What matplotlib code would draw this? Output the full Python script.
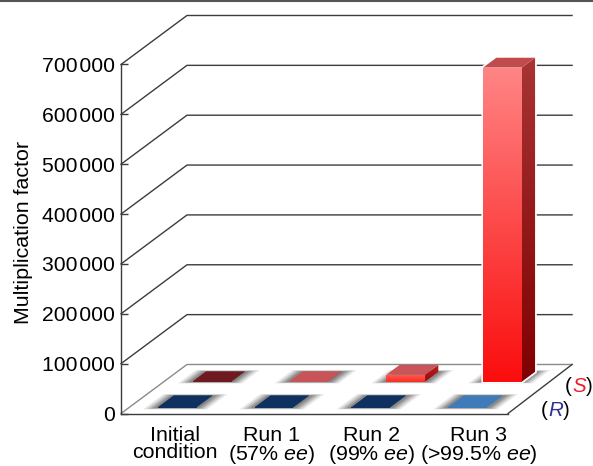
import matplotlib
matplotlib.use('Agg')
import matplotlib.pyplot as plt
import numpy as np
from matplotlib.colors import LinearSegmentedColormap
from matplotlib.lines import Line2D
from matplotlib.patches import Polygon

plt.rcParams['font.family'] = ['Liberation Sans', 'DejaVu Sans']
plt.rcParams['mathtext.fontset'] = 'custom'
plt.rcParams['mathtext.rm'] = 'Liberation Sans'
plt.rcParams['mathtext.it'] = 'Liberation Sans:italic'

y_ticks = [0, 100000, 200000, 300000, 400000, 500000, 600000, 700000]
y_labels = ['0', '100\u200a000', '200\u200a000', '300\u200a000', '400\u200a000',
            '500\u200a000', '600\u200a000', '700\u200a000']
x_labels = ['Initial\ncondition', 'Run 1\n(57% $\\mathit{ee}$)',
            'Run 2\n(99% $\\mathit{ee}$)', 'Run 3\n(>99.5% $\\mathit{ee}$)']
x_label_pos = [0.56, 1.56, 2.59, 3.70]

bar_pos = [0.5, 1.5, 2.5, 3.5]
s_values = [1000, 1000, 14000, 630000]
r_values = [1000, 1000, 1000, 1000]

s_top = ['#6e1a20', '#c85358', '#c9555a', '#c24a4a']
s_front_hi = ['#6e1a20', '#c85358', '#ff5a50', '#ff8585']
s_front_lo = ['#6e1a20', '#c85358', '#ff2a20', '#fb0d0d']
s_side_hi = ['#4c1015', '#96343a', '#b32020', '#a83434']
s_side_lo = ['#4c1015', '#96343a', '#a00808', '#800000']
r_top = ['#0f315f', '#0f315f', '#0f315f', '#3f7ab9']

# one unit of depth in data coordinates of the front plane
DX = 0.682
DV = 98300
HALF = 0.2


def proj(x, v, d):
    return x + d * DX, v + d * DV


def gradient_face(ax, pts, hi, lo, z):
    # vertical gradient clipped to a polygon
    pts = np.array(pts)
    cmap = LinearSegmentedColormap.from_list('face', [lo, hi])
    grad = np.linspace(0, 1, 256).reshape(-1, 1)
    im = ax.imshow(grad, origin='lower', cmap=cmap, aspect='auto', zorder=z,
                   extent=(pts[:, 0].min(), pts[:, 0].max(), pts[:, 1].min(), pts[:, 1].max()))
    poly = Polygon(pts, closed=True, transform=ax.transData, fc='none', ec='none')
    ax.add_patch(poly)
    poly.set_clip_on(False)
    im.set_clip_path(poly)
    # images are cut at the axes box unless told otherwise
    im.set_clip_box(ax.figure.bbox)


def draw_shadow(ax, x, d0, d1, z):
    for e, a in [(0.13, 0.14), (0.10, 0.20), (0.07, 0.28), (0.04, 0.36)]:
        de = e * 0.28
        pts = [proj(x - HALF - e, 0, d0 - de), proj(x + HALF + e, 0, d0 - de),
               proj(x + HALF + e, 0, d1 + de), proj(x - HALF - e, 0, d1 + de)]
        ax.add_patch(Polygon(pts, closed=True, fc='#555555', ec='none', alpha=a,
                             zorder=z, clip_on=False))


def draw_bar(ax, x, d0, d1, value, top, front_hi, front_lo, side_hi, side_lo, z):
    x0, x1 = x - HALF, x + HALF
    draw_shadow(ax, x, d0, d1, z)
    front = [proj(x0, 0, d0), proj(x1, 0, d0), proj(x1, value, d0), proj(x0, value, d0)]
    side = [proj(x1, 0, d0), proj(x1, 0, d1), proj(x1, value, d1), proj(x1, value, d0)]
    lid = [proj(x0, value, d0), proj(x1, value, d0), proj(x1, value, d1), proj(x0, value, d1)]
    # thin white rim keeps the gridlines off the tall bar
    if value > 100000:
        rim = [front[0], front[1], side[1], side[2], lid[3], front[3]]
        ax.add_patch(Polygon(rim, closed=True, fc='white', ec='white', lw=2.5, zorder=z + 0.1,
                             clip_on=False))
    gradient_face(ax, side, side_hi, side_lo, z + 0.2)
    gradient_face(ax, front, front_hi, front_lo, z + 0.3)
    ax.add_patch(Polygon(lid, closed=True, fc=top, ec='none', zorder=z + 0.4, clip_on=False))


def label_parts(ax, anchor, parts):
    for text, color, style, dx, dy in parts:
        ax.annotate(text, xy=anchor, xycoords='data', xytext=(dx, dy), textcoords='offset pixels',
                    color=color, style=style, fontsize=14.8, va='baseline', ha='left',
                    annotation_clip=False)


fig = plt.figure(figsize=(5.93, 4.66), dpi=100)
ax = fig.add_axes([121 / 593, (466 - 413.5) / 466, 387 / 593, 349 / 466])

for v in y_ticks:
    pts = np.array([proj(0, v, 0), proj(0, v, 1), proj(3.98, v, 1)])
    c = '#8a8a8a' if v == 0 else '#3c3c3c'
    ax.plot(pts[:, 0], pts[:, 1], color=c, lw=1.0, clip_on=False, zorder=1)
pts = np.array([proj(4, 0, 0), proj(3.98, 0, 1)])
ax.plot(pts[:, 0], pts[:, 1], color='#3c3c3c', lw=1.0, clip_on=False, zorder=1)

for i, x in enumerate(bar_pos):
    draw_bar(ax, x, 0.65, 0.85, s_values[i], s_top[i], s_front_hi[i], s_front_lo[i],
             s_side_hi[i], s_side_lo[i], 2)
for i, x in enumerate(bar_pos):
    draw_bar(ax, x, 0.12, 0.36, r_values[i], r_top[i], r_top[i], r_top[i], r_top[i], r_top[i], 3)

ax.set_xlim(0, 4)
ax.set_ylim(0, 700000)
ax.set_yticks(y_ticks)
ax.set_yticklabels(y_labels)
ax.set_xticks(x_label_pos)
ax.set_xticklabels(x_labels, linespacing=0.9)
ax.tick_params(axis='y', direction='in', length=5, width=1, color='#3c3c3c', labelsize=15.2, pad=4.5)
ax.tick_params(axis='x', length=0, labelsize=15.4, pad=9)
ax.spines['top'].set_visible(False)
ax.spines['right'].set_visible(False)
for side in ['left', 'bottom']:
    ax.spines[side].set_color('#3c3c3c')
    ax.spines[side].set_linewidth(1.0)
ax.patch.set_alpha(0)

ax.set_ylabel('Multiplication factor', fontsize=15.4)
ax.yaxis.set_label_coords(-0.227, 0.519)

label_parts(ax, (4, 0), [('(', 'black', 'normal', 33, -3), ('R', '#2e3192', 'italic', 40, -3),
                         (')', 'black', 'normal', 55, -3)])
label_parts(ax, (4, 0), [('(', 'black', 'normal', 57, 21), ('S', '#ed1c24', 'italic', 64, 21),
                         (')', 'black', 'normal', 78, 21)])

fig.add_artist(Line2D([0, 1], [0.998, 0.998], color='#555555', lw=1.5))

fig.savefig('out.png', dpi=100)
